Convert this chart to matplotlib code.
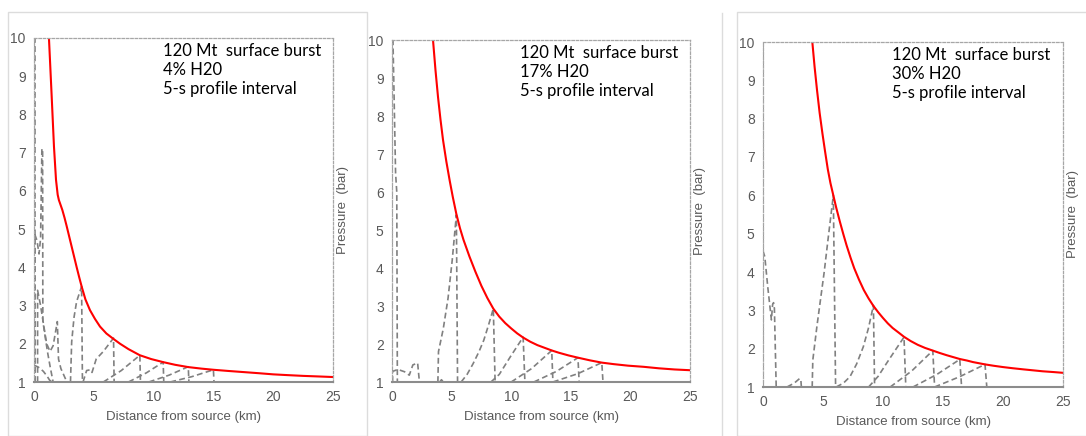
import matplotlib
matplotlib.use("Agg")
import matplotlib.pyplot as plt
from matplotlib.patches import Rectangle
from matplotlib.lines import Line2D

plt.rcParams["font.family"] = ["Liberation Sans", "DejaVu Sans"]

# ---------------- data ----------------
x_ticks = [0, 5, 10, 15, 20, 25]
y_ticks = [1, 2, 3, 4, 5, 6, 7, 8, 9, 10]
titles = ["120 Mt  surface burst\n4% H20\n5-s profile interval",
          "120 Mt  surface burst\n17% H20\n5-s profile interval",
          "120 Mt  surface burst\n30% H20\n5-s profile interval"]

# Panel 1 (4% H2O) peak-pressure envelope
env1_x = [1.25, 1.48, 1.67, 1.84, 1.98, 2.08, 2.17, 2.37, 2.55, 2.73, 2.94, 3.15, 3.36,
          3.57, 3.78, 4.0, 4.3, 4.68, 5.1, 5.52, 6.05, 6.63, 7.2, 7.9, 8.85, 9.8, 10.8,
          11.8, 12.9, 14.0, 15.0, 16.2, 17.5, 18.8, 20.0, 21.2, 22.5, 23.8, 25.0]
env1_y = [10.0, 8.46, 7.16, 6.29, 5.9, 5.76, 5.68, 5.5, 5.3, 5.08, 4.81, 4.54, 4.27,
          4.0, 3.74, 3.48, 3.16, 2.88, 2.65, 2.45, 2.27, 2.13, 2.0, 1.86, 1.70, 1.6, 1.52,
          1.45, 1.39, 1.35, 1.32, 1.29, 1.26, 1.23, 1.2, 1.18, 1.16, 1.145, 1.13]
prof1 = [
    ([0.0, 0.0], [1.0, 10.5]),
    ([0.12, 0.12], [1.0, 10.5]),
    ([0.08, 0.08, 0.25, 0.42, 0.55, 0.66, 0.72, 0.74, 0.95, 1.15, 1.35, 1.6],
     [1.0, 4.85, 4.7, 4.35, 4.75, 7.1, 7.1, 2.6, 2.15, 1.75, 1.4, 1.0]),
    ([0.3, 0.3, 0.55, 0.8, 1.06, 1.34, 1.6, 1.95, 2.05, 2.25, 2.75],
     [1.0, 3.4, 3.0, 2.5, 2.0, 1.8, 1.95, 2.58, 1.6, 1.35, 1.0]),
    ([0.0, 0.36, 0.78, 1.1, 1.3, 1.5],
     [1.44, 1.39, 1.28, 1.15, 1.05, 1.0]),
    ([3.05, 3.15, 3.35, 3.56, 3.98, 4.05],
     [1.0, 2.05, 2.7, 3.1, 3.5, 1.0]),
    ([4.1, 4.4, 4.7, 4.85, 5.2, 5.8, 6.65, 6.7],
     [1.0, 1.3, 1.32, 1.25, 1.6, 1.8, 2.15, 1.0]),
    ([5.8, 7.3, 8.85, 8.9], [1.0, 1.3, 1.7, 1.0]),
    ([7.9, 9.4, 10.8, 10.85], [1.0, 1.24, 1.52, 1.0]),
    ([9.6, 11.3, 12.9, 12.95], [1.0, 1.18, 1.4, 1.0]),
    ([11.4, 13.2, 15.0, 15.05], [1.0, 1.14, 1.32, 1.0]),
]

# Panel 2 (17% H2O)
env2_x = [3.44, 3.65, 3.86, 4.07, 4.28, 4.56, 4.84, 5.1, 5.4, 5.7, 6.0, 6.5, 7.0, 7.5,
          8.0, 8.5, 9.0, 9.5, 10.0, 10.5, 11.0, 11.6, 12.2, 12.8, 13.4, 14.0, 14.8,
          15.6, 16.6, 17.6, 18.6, 19.8, 21.1, 22.4, 23.7, 25.0]
env2_y = [10.0, 9.2, 8.5, 7.9, 7.37, 6.8, 6.3, 5.87, 5.42, 5.05, 4.74, 4.3, 3.9, 3.53,
          3.21, 2.93, 2.72, 2.55, 2.41, 2.28, 2.17, 2.06, 1.97, 1.9, 1.83, 1.77, 1.7,
          1.64, 1.57, 1.51, 1.47, 1.43, 1.40, 1.36, 1.33, 1.31]
prof2 = [
    ([0.0, 0.0], [1.0, 10.5]),
    ([0.05, 0.3, 0.4, 0.45], [10.5, 6.5, 6.0, 1.0]),
    ([0.05, 0.05, 0.5, 1.05, 1.45, 1.75, 2.15, 2.3],
     [1.0, 1.28, 1.33, 1.27, 1.18, 1.45, 1.5, 1.0]),
    ([3.85, 3.9, 4.3, 4.7, 5.05, 5.4, 5.5],
     [1.0, 1.8, 2.4, 3.2, 4.2, 5.4, 1.0]),
    ([4.0, 4.15, 4.3], [1.0, 1.06, 1.0]),
    ([5.8, 6.3, 6.8, 7.3, 7.7, 8.1, 8.5, 8.65],
     [1.0, 1.2, 1.48, 1.8, 2.1, 2.5, 2.93, 1.0]),
    ([8.3, 9.0, 9.9, 11.0, 11.15], [1.0, 1.2, 1.65, 2.18, 1.0]),
    ([10.0, 11.7, 13.4, 13.5], [1.0, 1.35, 1.83, 1.0]),
    ([11.9, 13.8, 15.6, 15.7], [1.0, 1.28, 1.64, 1.0]),
    ([13.5, 15.6, 17.6, 17.7], [1.0, 1.22, 1.51, 1.0]),
]

# Panel 3 (30% H2O)
env3_x = [4.11, 4.3, 4.5, 4.72, 4.95, 5.17, 5.4, 5.62, 5.86, 6.1, 6.4, 6.7, 6.97, 7.3,
          7.6, 8.0, 8.4, 8.8, 9.19, 9.6, 10.0, 10.4, 10.8, 11.3, 11.75, 12.3, 12.9,
          13.5, 14.15, 14.7, 15.3, 15.85, 16.4, 17.0, 17.5, 18.0, 18.5, 19.2, 20.0,
          20.8, 21.7, 22.5, 23.3, 24.2, 25.0]
env3_y = [10.0, 9.35, 8.75, 8.15, 7.62, 7.15, 6.68, 6.32, 6.0, 5.68, 5.32, 4.98, 4.69,
          4.37, 4.1, 3.8, 3.53, 3.31, 3.12, 2.95, 2.8, 2.66, 2.54, 2.42, 2.31, 2.2, 2.1,
          2.02, 1.95, 1.89, 1.83, 1.78, 1.73, 1.69, 1.65, 1.62, 1.59, 1.555, 1.52,
          1.49, 1.46, 1.435, 1.41, 1.39, 1.37]
prof3 = [
    ([0.0, 0.0], [1.0, 10.5]),
    ([0.0, 0.15, 0.4, 0.7, 0.8, 0.88, 0.95, 1.1],
     [4.55, 4.4, 3.6, 2.75, 3.15, 3.2, 3.05, 1.0]),
    ([2.0, 2.6, 3.05, 3.15, 3.2], [1.0, 1.1, 1.22, 1.2, 1.0]),
    ([4.1, 4.15, 4.5, 4.8, 5.1, 5.4, 5.86, 6.05],
     [1.0, 1.7, 2.6, 3.3, 4.0, 4.8, 6.0, 1.0]),
    ([6.1, 6.7, 7.25, 7.8, 8.36, 8.8, 9.2, 9.3],
     [1.0, 1.1, 1.27, 1.6, 2.05, 2.55, 3.13, 1.0]),
    ([8.8, 9.6, 10.3, 11.0, 11.75, 11.9], [1.0, 1.28, 1.62, 1.95, 2.3, 1.0]),
    ([10.6, 12.4, 14.15, 14.3], [1.0, 1.42, 1.95, 1.0]),
    ([12.5, 14.5, 16.4, 16.55], [1.0, 1.33, 1.72, 1.0]),
    ([14.3, 16.4, 18.5, 18.65], [1.0, 1.27, 1.59, 1.0]),
]

envelopes = [(env1_x, env1_y), (env2_x, env2_y), (env3_x, env3_y)]
profiles = [prof1, prof2, prof3]

# ---------------- layout ----------------
W, H = 1086, 436
fig = plt.figure(figsize=(W / 100, H / 100), dpi=100)
fig.patch.set_facecolor("white")

# axes boxes in pixels: left, right, top, bottom
boxes = [(34, 333, 38, 382), (392, 690, 40, 382), (763, 1063, 42, 387)]

# panel card borders
card = "#dcdcdc"
fig.add_artist(Rectangle((8 / W, 0), (367 - 8) / W, (H - 12) / H, transform=fig.transFigure,
                         fill=False, edgecolor=card, lw=1.0))
fig.add_artist(Line2D([722 / W, 722 / W], [0, (H - 13) / H], transform=fig.transFigure,
                      color=card, lw=1.0))
fig.add_artist(Rectangle((737 / W, 0), (W + 5 - 737) / W, (H - 12) / H, transform=fig.transFigure,
                         fill=False, edgecolor=card, lw=1.0))

gray_txt = "#595959"
for i, (l, r, t, b) in enumerate(boxes):
    ax = fig.add_axes([l / W, (H - b) / H, (r - l) / W, (b - t) / H])
    ax.set_xlim(0, 25)
    ax.set_ylim(1, 10)
    for xs, ys in profiles[i]:
        ax.plot(xs, ys, color="#808080", lw=1.2, linestyle=(0, (3.5, 2.0)))
    ex, ey = envelopes[i]
    ax.plot(ex, ey, color="#ff0000", lw=1.5)
    ax.set_xticks(x_ticks)
    ax.set_yticks(y_ticks)
    ax.tick_params(length=0, labelsize=10, labelcolor=gray_txt, pad=6)
    for s in ["top", "right", "left"]:
        ax.spines[s].set_linestyle((0, (2, 1.5)))
        ax.spines[s].set_color("#a6a6a6")
        ax.spines[s].set_linewidth(0.9)
    ax.spines["bottom"].set_color("#8c8c8c")
    ax.spines["bottom"].set_linewidth(1.5)
    ax.set_xlabel("Distance from source (km)", fontsize=9.5, color=gray_txt, labelpad=5)
    ax.yaxis.set_label_position("right")
    ax.set_ylabel("Pressure  (bar)", fontsize=9.5, color=gray_txt, labelpad=3)
    ax.text(0.43, 0.985, titles[i], transform=ax.transAxes, ha="left", va="top",
            fontsize=12, family="Lato", linespacing=1.22, color="black")

fig.savefig("out.png", dpi=100, facecolor="white")
